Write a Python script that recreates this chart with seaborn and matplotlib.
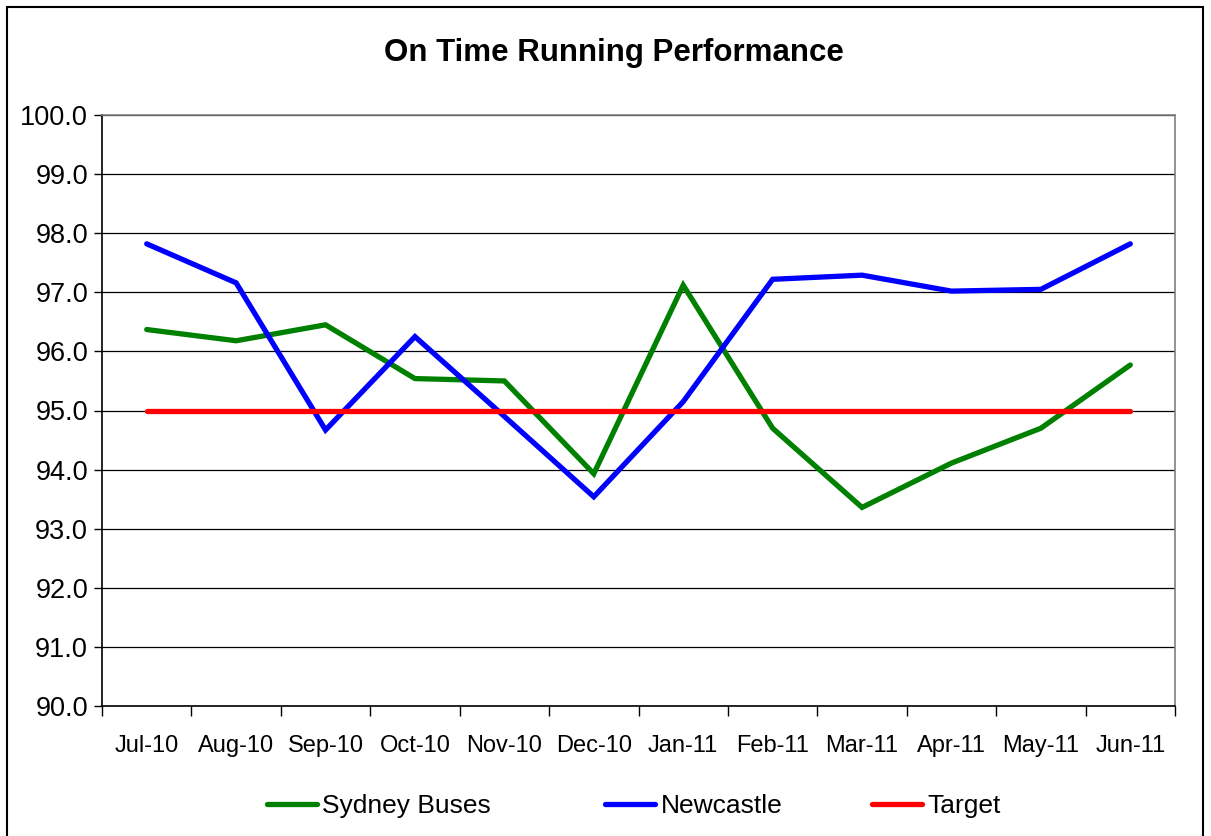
import matplotlib
matplotlib.use("Agg")
import matplotlib.pyplot as plt
import seaborn as sns
import pandas as pd
import numpy as np
from matplotlib.patches import Rectangle
from matplotlib.ticker import FixedLocator, NullFormatter, FixedFormatter

months = ["Jul-10", "Aug-10", "Sep-10", "Oct-10", "Nov-10", "Dec-10",
          "Jan-11", "Feb-11", "Mar-11", "Apr-11", "May-11", "Jun-11"]
sydney_buses = [96.37, 96.18, 96.45, 95.54, 95.50, 93.93,
                97.12, 94.70, 93.36, 94.11, 94.70, 95.77]
newcastle = [97.82, 97.16, 94.67, 96.25, 94.90, 93.54,
             95.15, 97.22, 97.29, 97.02, 97.05, 97.82]
target = [95.0] * 12
series_names = ["Sydney Buses", "Newcastle", "Target"]
colors = ["#008000", "#0000FF", "#FF0000"]

sns.set_style("white")
plt.rcParams['font.family'] = ['Liberation Sans', 'DejaVu Sans']
plt.rcParams['text.color'] = 'black'
plt.rcParams['xtick.color'] = 'black'
plt.rcParams['ytick.color'] = 'black'
plt.rcParams['axes.labelcolor'] = 'black'

df = pd.DataFrame({
    "Month": months * 3,
    "Value": sydney_buses + newcastle + target,
    "Series": [series_names[0]] * 12 + [series_names[1]] * 12 + [series_names[2]] * 12,
})

fig = plt.figure(figsize=(12.11, 8.36), dpi=100)
ax = fig.add_axes([102/1211, 1 - 706/836, (1175-102)/1211, (706-115)/836])

sns.lineplot(data=df, x="Month", y="Value", hue="Series", hue_order=series_names,
             palette=colors, linewidth=3.8, sort=False, ax=ax, legend=False,
             solid_capstyle="round", solid_joinstyle="miter")

ax.set_xlim(-0.5, 11.5)
ax.set_ylim(90, 100)
ax.set_yticks(np.arange(90, 100.1, 1.0))
ax.set_yticklabels([f"{v:.1f}" for v in np.arange(90, 100.1, 1.0)], fontsize=19.5)
ax.yaxis.grid(True, color="#000000", linewidth=0.9)
ax.xaxis.grid(False)
ax.set_axisbelow(True)

ax.xaxis.set_major_locator(FixedLocator(np.arange(-0.5, 12, 1.0)))
ax.xaxis.set_major_formatter(NullFormatter())
ax.xaxis.set_minor_locator(FixedLocator(np.arange(0, 12, 1.0)))
ax.xaxis.set_minor_formatter(FixedFormatter(months))
ax.tick_params(axis="x", which="major", direction="out", length=7, width=1, color="#000000", bottom=True)
ax.tick_params(axis="x", which="minor", length=0, labelsize=17, pad=21, bottom=True)
ax.tick_params(axis="y", direction="out", length=6, width=1, color="#000000", left=True, pad=4)
ax.set_xlabel("")
ax.set_ylabel("")

for side in ["left", "bottom"]:
    ax.spines[side].set_color("#000000")
    ax.spines[side].set_linewidth(1.2)
for side in ["top", "right"]:
    ax.spines[side].set_color("#808080")
    ax.spines[side].set_linewidth(1.2)

fig.text(614/1211, 1 - 53/836, "On Time Running Performance", ha="center", va="center",
         fontsize=22.5, fontweight="bold", color="black")

# legend entries, placed individually to match spacing
legend_x = [267, 605, 872]
for name, c, lx in zip(series_names, colors, legend_x):
    h = plt.Line2D([0], [0], color=c, linewidth=3.8, solid_capstyle="round")
    fig.legend([h], [name], loc="center left", bbox_to_anchor=(lx/1211, 1 - 806/836),
               frameon=False, fontsize=19, handlelength=1.9, handletextpad=0.2,
               borderpad=0, borderaxespad=0)

fig.patches.append(Rectangle((7/1211, -0.05), (1203-7)/1211, 1.05 - 7/836,
                             transform=fig.transFigure, fill=False, edgecolor="#000000",
                             linewidth=1.5))

fig.savefig("out.png", dpi=100, facecolor="white")
